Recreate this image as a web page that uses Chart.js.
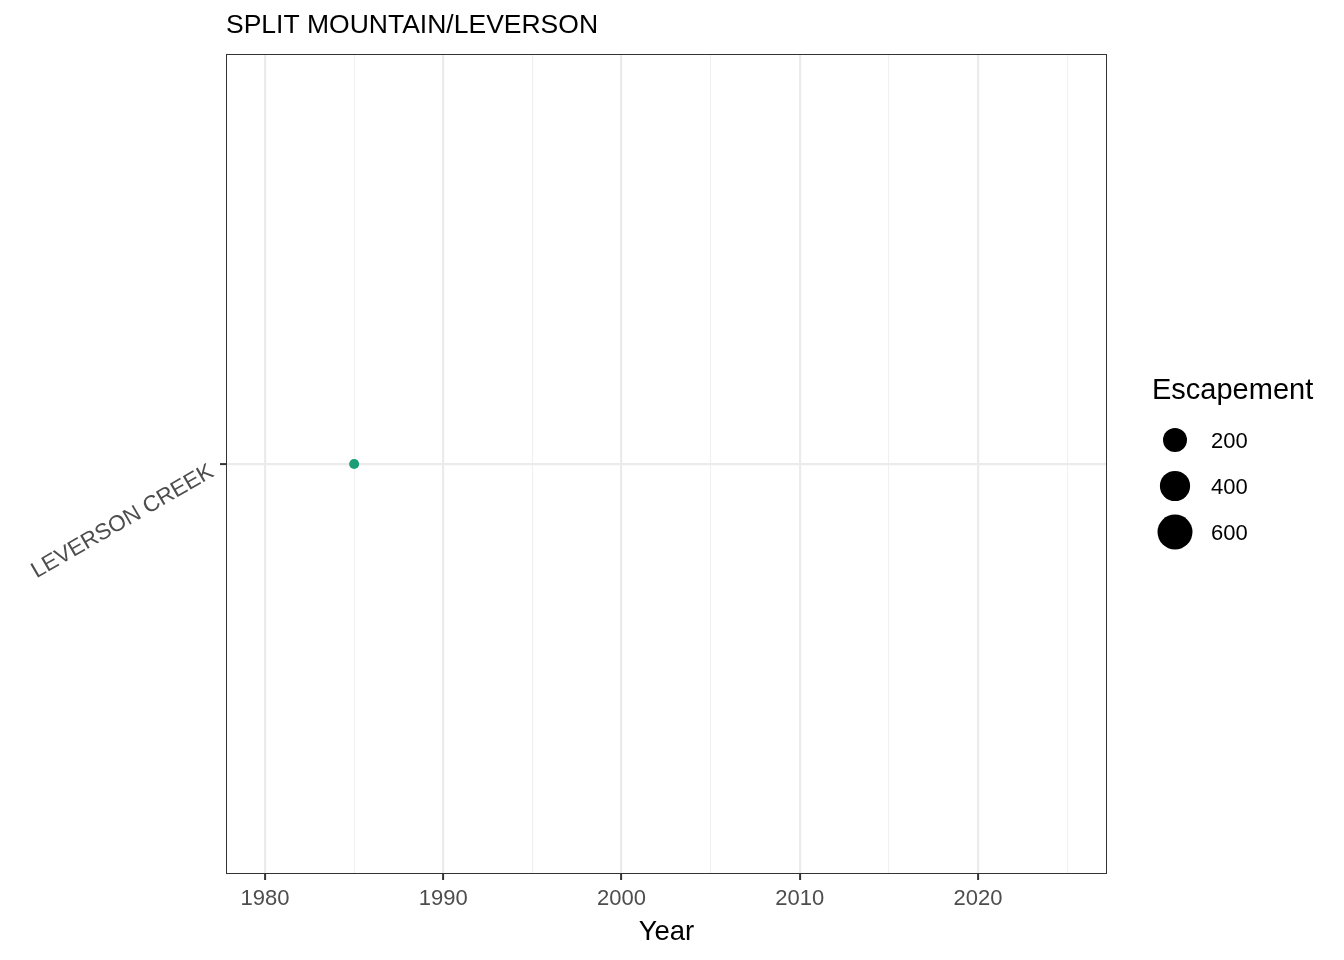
<!DOCTYPE html>
<html>
<head>
<meta charset="utf-8">
<script src="https://cdn.jsdelivr.net/npm/chart.js@4"></script>
<style>
  body { margin: 0; background: #fff; }
  #wrap { width: 1344px; height: 960px; position: relative; }
</style>
</head>
<body>
<div id="wrap"><canvas id="chart"></canvas></div>
<script>
// data
const sites = ["LEVERSON CREEK"];
const years = [1985];
const escapement = [1];
const legendValues = [200, 400, 600];

const FONT = "'Liberation Sans', Arial, Helvetica, sans-serif";
const pointColor = "#1b9e77";

// size scale: escapement -> point radius
function sizeFor(v) {
  return 4.5 + 0.53 * Math.sqrt(v);
}

const points = years.map((y, i) => ({ x: y, y: sites[i], e: escapement[i] }));

// panel border, title and size legend
const extras = {
  id: "extras",
  afterDraw(chart) {
    const ctx = chart.ctx;
    const a = chart.chartArea;
    ctx.save();
    ctx.strokeStyle = "#333333";
    ctx.lineWidth = 1;
    ctx.strokeRect(a.left + 0.5, a.top + 0.5, a.right - a.left - 1, a.bottom - a.top - 1);

    ctx.fillStyle = "#000";
    ctx.textBaseline = "middle";
    ctx.textAlign = "left";
    ctx.font = "26.5px " + FONT;
    ctx.fillText("SPLIT MOUNTAIN/LEVERSON", a.left, 26);

    ctx.font = "29px " + FONT;
    ctx.fillText("Escapement", 1152, 391);
    ctx.font = "22px " + FONT;
    legendValues.forEach((v, i) => {
      const cy = 440 + i * 46;
      ctx.beginPath();
      ctx.arc(1175, cy, sizeFor(v), 0, Math.PI * 2);
      ctx.fill();
      ctx.fillText(String(v), 1211, cy + 2);
    });
    ctx.restore();
  }
};

new Chart(document.getElementById("chart"), {
  type: "scatter",
  data: {
    datasets: [{
      data: points,
      backgroundColor: pointColor,
      borderColor: pointColor,
      borderWidth: 0,
      pointRadius: (c) => sizeFor(c.raw ? c.raw.e : 0),
    }]
  },
  options: {
    responsive: true,
    maintainAspectRatio: false,
    animation: false,
    events: [],
    layout: { padding: { top: 54, right: 237, bottom: 0, left: 0 } },
    plugins: { legend: { display: false }, tooltip: { enabled: false } },
    scales: {
      x: {
        type: "linear",
        min: 1977.81,
        max: 2027.24,
        ticks: {
          stepSize: 5,
          includeBounds: false,
          color: "#4d4d4d",
          font: { family: FONT, size: 22 },
          padding: 6,
          callback: (v) => (v % 10 === 0 ? String(v) : ""),
        },
        grid: {
          color: (c) => (c.tick && c.tick.value % 10 === 0 ? "#ebebeb" : "#f0f0f0"),
          lineWidth: (c) => (c.tick && c.tick.value % 10 === 0 ? 2.2 : 1.1),
          tickColor: (c) => (c.tick && c.tick.value % 10 === 0 ? "#333333" : "rgba(0,0,0,0)"),
          tickWidth: 2,
          tickLength: 6,
          drawOnChartArea: true,
        },
        border: { display: false },
        title: {
          display: true,
          text: "Year",
          color: "#000",
          font: { family: FONT, size: 27.5 },
          padding: { top: 0, bottom: 11 },
        },
        afterFit: (s) => { s.height = 86; },
      },
      y: {
        type: "category",
        labels: sites,
        offset: true,
        ticks: {
          minRotation: 30,
          maxRotation: 30,
          color: "#4d4d4d",
          font: { family: FONT, size: 22.5 },
          padding: 8,
          labelOffset: 6,
        },
        grid: {
          offset: false,
          color: "#ebebeb",
          lineWidth: 2.2,
          tickColor: "#333333",
          tickWidth: 2,
          tickLength: 6,
        },
        border: { display: false },
        afterFit: (s) => { s.width = 226; },
      }
    }
  },
  plugins: [extras]
});
</script>
</body>
</html>
